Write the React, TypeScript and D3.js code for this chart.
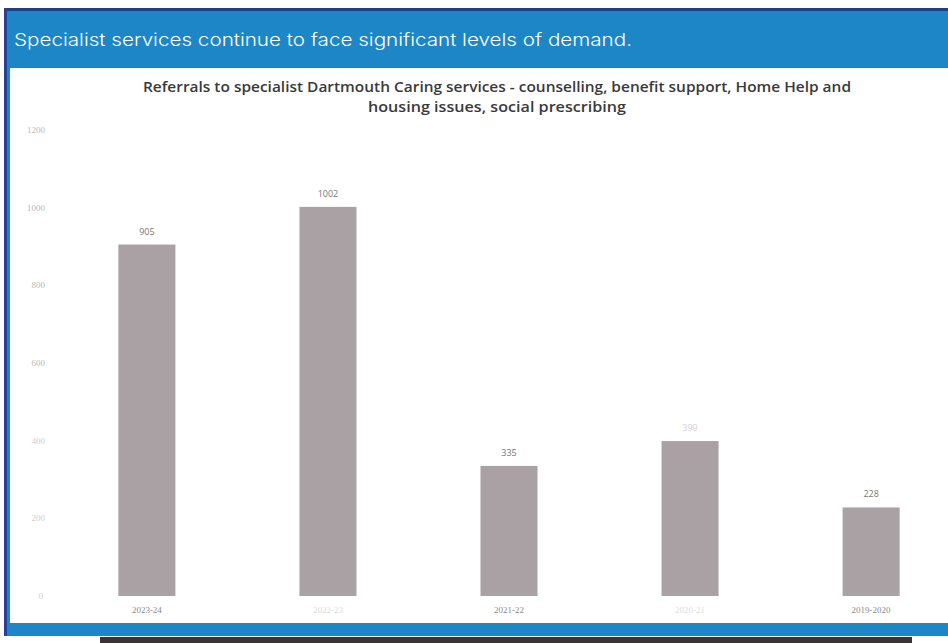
import React from "react";
import * as d3 from "d3";

const categories = ["2023-24", "2022-23", "2021-22", "2020-21", "2019-2020"];
const values = [905, 1002, 335, 399, 228];
const valueLabels = ["905", "1002", "335", "399", "228"];
const yTicks = [0, 200, 400, 600, 800, 1000, 1200];
const banner = "Specialist services continue to face significant levels of demand.";
const titleLines = [
  "Referrals to specialist Dartmouth Caring services - counselling, benefit support, Home Help and",
  "housing issues, social prescribing",
];
const titleWidths = [708, 258];

export default function App() {
  const W = 948, H = 643;
  const y = d3.scaleLinear().domain([0, 1200]).range([596, 130]);
  const x = d3.scaleBand().domain(categories).range([55, 963]).paddingInner(0.685).paddingOuter(0.35);
  const font = "'Open Sans', 'Noto Sans', sans-serif";
  return (
    <svg width={W} height={H} style={{ position: "absolute", left: 0, top: 0, background: "#fff" }}>
      <rect x={4} y={8} width={944} height={630} fill="#1d86c6" />
      <rect x={4} y={8} width={944} height={3} fill="#1c3f8a" />
      <rect x={4} y={8} width={3} height={630} fill="#2b3f93" />
      <rect x={10} y={68} width={938} height={555} fill="#fff" />
      <rect x={0} y={636} width={948} height={7} fill="#fff" />
      <rect x={100} y={637} width={812} height={6} fill="#3a3436" />
      <text x={14} y={46} fill="#fff" fontFamily="Inter, 'Noto Sans', sans-serif" fontSize={17.5} fontWeight={300}
        textLength={618} lengthAdjust="spacingAndGlyphs">{banner}</text>
      {titleLines.map((t, i) => (
        <text key={i} x={497} y={92 + i * 20} textAnchor="middle" fill="#3a3a3a" fontFamily={font} fontSize={13.5} fontWeight={600}
          textLength={titleWidths[i]} lengthAdjust="spacingAndGlyphs">{t}</text>
      ))}
      {yTicks.map((t) => (
        <text key={t} x={t === 0 ? 43 : 45} y={y(t) + 3} textAnchor="end" fill={t >= 600 ? "#b8b8b8" : "#cfcfcf"} fontFamily="'Liberation Serif', serif" fontSize={9}>{t}</text>
      ))}
      {categories.map((c, i) => (
        <g key={c}>
          <rect x={x(c)} y={y(values[i])} width={x.bandwidth()} height={y(0) - y(values[i])} fill="#aaa1a4" />
          <text x={x(c)! + x.bandwidth() / 2} y={y(values[i]) - 10} textAnchor="middle" fill={i === 3 ? "#d8d0d4" : "#777"} fontFamily={font} fontSize={9}>{valueLabels[i]}</text>
          <text x={x(c)! + x.bandwidth() / 2} y={613} textAnchor="middle" fill={i === 1 || i === 3 ? "#dcdcdc" : "#8a8a8a"} fontFamily="'Liberation Serif', serif" fontSize={9}>{c}</text>
        </g>
      ))}
    </svg>
  );
}
